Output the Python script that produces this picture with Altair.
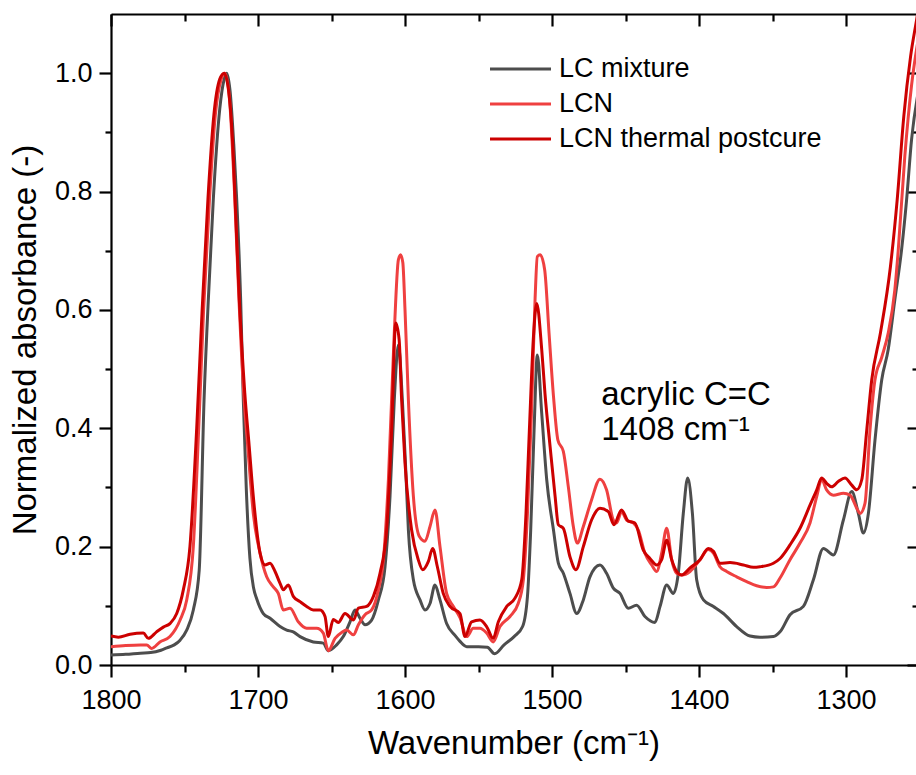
import altair as alt
import pandas as pd

# ---------------- data ----------------
series_names = ["LC mixture", "LCN", "LCN thermal postcure"]
series_colors = ["#4d4d4d", "#ef4040", "#cc0000"]

wn_lc = [1800, 1790, 1780, 1773, 1766, 1762, 1757, 1753, 1748.5, 1744,
         1740, 1736.7, 1733.8, 1730.4, 1726, 1723, 1721.3, 1719, 1716.5, 1714.5,
         1711.8, 1710, 1708, 1705.5, 1703, 1700.9, 1696.4, 1691.8, 1685, 1680.5,
         1676, 1671.4, 1662.4, 1655.6, 1652.2, 1646.5, 1642, 1637.4, 1634, 1630.6,
         1627.2, 1622.7, 1618.1, 1613.6, 1610.2, 1607.3, 1604.5, 1601.8, 1599.5, 1597.7,
         1594.3, 1589.8, 1586.4, 1583, 1579.6, 1576.2, 1571.7, 1566, 1562.6, 1558,
         1550, 1544, 1539, 1532.6, 1525.8, 1520, 1516.7, 1514.5, 1512.2, 1510,
         1507, 1503.6, 1499, 1495.7, 1492.3, 1487.8, 1483.2, 1478.7, 1474.2, 1467.4,
         1462.9, 1458.3, 1453.8, 1448.1, 1442.5, 1436.8, 1430, 1426.5, 1422, 1417.5,
         1414.1, 1410.7, 1407.7, 1404.5, 1401.6, 1397, 1390.2, 1383.4, 1374.4, 1365.3,
         1358.5, 1349.4, 1344.9, 1338.1, 1329, 1322.2, 1315.4, 1308.6, 1301.8, 1296.1,
         1291.6, 1288.2, 1284.8, 1280.3, 1275.7, 1271.3, 1266.8, 1262.2, 1258.8, 1255.4,
         1250]
abs_lc = [0.017, 0.018, 0.020, 0.021, 0.025, 0.029, 0.034, 0.042, 0.059, 0.093,
          0.16, 0.448, 0.617, 0.787, 0.94, 0.99, 1.0, 0.97, 0.88, 0.787,
          0.617, 0.448, 0.30, 0.18, 0.13, 0.112, 0.087, 0.079, 0.065, 0.059,
          0.056, 0.048, 0.039, 0.037, 0.024, 0.034, 0.048, 0.073, 0.093, 0.079,
          0.068, 0.076, 0.110, 0.166, 0.285, 0.448, 0.541, 0.448, 0.33, 0.228,
          0.144, 0.110, 0.093, 0.104, 0.135, 0.110, 0.070, 0.050, 0.040, 0.031,
          0.031, 0.030, 0.019, 0.034, 0.048, 0.065, 0.116, 0.228, 0.397, 0.524,
          0.425, 0.313, 0.228, 0.172, 0.155, 0.121, 0.087, 0.110, 0.149, 0.169,
          0.155, 0.130, 0.121, 0.096, 0.101, 0.082, 0.072, 0.099, 0.135, 0.121,
          0.155, 0.256, 0.316, 0.256, 0.144, 0.110, 0.099, 0.087, 0.065, 0.049,
          0.047, 0.048, 0.056, 0.085, 0.099, 0.144, 0.197, 0.186, 0.245, 0.293,
          0.256, 0.223, 0.256, 0.380, 0.482, 0.533, 0.617, 0.702, 0.786, 0.888,
          0.98]

wn_lcn = [1800, 1790, 1780, 1775.7, 1772.3, 1766.7, 1759.9, 1753, 1748.5, 1744,
          1740, 1737, 1733, 1729, 1725, 1722.5, 1719.5, 1716, 1713, 1709.5,
          1707, 1703.2, 1698.6, 1694.1, 1689.6, 1686.2, 1682.8, 1678.2, 1672.6, 1666.9,
          1660.1, 1655.6, 1652.2, 1647.6, 1643.1, 1639.7, 1635.1, 1631.7, 1627.2, 1622.7,
          1618.1, 1614.7, 1611.3, 1607.5, 1604.5, 1603, 1601.5, 1600, 1597.7, 1594.3,
          1590.2, 1586.4, 1583, 1579.6, 1576.2, 1571.7, 1567.1, 1562.6, 1558, 1553.6,
          1549, 1544.5, 1540, 1535.4, 1528.6, 1523, 1519.5, 1516.7, 1514, 1511.5,
          1510, 1508, 1505, 1502, 1499, 1496, 1492.3, 1488.9, 1485.5, 1482.8,
          1478.7, 1473.1, 1467.4, 1462.9, 1458.3, 1456.1, 1452.7, 1449.3, 1444.7, 1441.3,
          1436.8, 1432.2, 1428.8, 1425.4, 1422, 1418.6, 1415.2, 1411.8, 1406.1, 1399.3,
          1393.7, 1390.2, 1385.7, 1381.2, 1374.4, 1367.6, 1360.8, 1354, 1349.4, 1344.9,
          1338.1, 1331.3, 1324.5, 1319.9, 1316.6, 1313.2, 1308.6, 1301.8, 1297.3, 1292.7,
          1290.5, 1287.1, 1283.7, 1280.3, 1275.7, 1271.3, 1266.8, 1264.5, 1260, 1255.4,
          1250]
abs_lcn = [0.031, 0.033, 0.034, 0.034, 0.028, 0.039, 0.048, 0.076, 0.110, 0.2,
           0.42, 0.60, 0.787, 0.93, 0.99, 1.0, 0.96, 0.80, 0.62, 0.45,
           0.37, 0.256, 0.189, 0.149, 0.132, 0.121, 0.093, 0.096, 0.073, 0.062,
           0.062, 0.054, 0.024, 0.045, 0.055, 0.059, 0.051, 0.068, 0.085, 0.093,
           0.127, 0.178, 0.313, 0.55, 0.685, 0.693, 0.68, 0.60, 0.448, 0.285,
           0.217, 0.209, 0.234, 0.262, 0.2, 0.121, 0.099, 0.080, 0.048, 0.062,
           0.062, 0.054, 0.039, 0.065, 0.082, 0.104, 0.144, 0.256, 0.425, 0.62,
           0.69, 0.693, 0.668, 0.56, 0.454, 0.380, 0.361, 0.301, 0.234, 0.206,
           0.234, 0.279, 0.314, 0.296, 0.245, 0.240, 0.259, 0.245, 0.240, 0.228,
           0.189, 0.169, 0.158, 0.189, 0.231, 0.178, 0.155, 0.152, 0.158, 0.178,
           0.195, 0.189, 0.166, 0.158, 0.149, 0.141, 0.134, 0.131, 0.132, 0.147,
           0.178, 0.206, 0.240, 0.285, 0.313, 0.296, 0.287, 0.290, 0.287, 0.265,
           0.256, 0.273, 0.397, 0.482, 0.52, 0.561, 0.634, 0.70, 0.86, 0.98,
           1.07]

wn_post = [1800, 1795, 1787, 1778, 1774.6, 1769, 1764.4, 1759.9, 1755.3, 1750.8,
           1746.3, 1741.7, 1738, 1734, 1730, 1726, 1723, 1720, 1717, 1715.6,
           1712.7, 1709, 1706, 1703.2, 1698.6, 1695.2, 1691.8, 1688.4, 1685, 1682.8,
           1679.4, 1676, 1671.4, 1666.9, 1662.4, 1657.8, 1654.4, 1652.2, 1648.8, 1645.4,
           1640.8, 1635.1, 1631.7, 1626.1, 1621.5, 1617, 1612.5, 1609.1, 1606.3, 1604,
           1602.3, 1600, 1595.5, 1591, 1588, 1584.1, 1581.2, 1578, 1574, 1569.4,
           1562.6, 1559.2, 1554.7, 1549, 1544.5, 1540, 1536.5, 1530.8, 1525.2, 1520.6,
           1517.7, 1515.4, 1512.5, 1510.4, 1507, 1504.8, 1501.3, 1497.9, 1495.7, 1492.3,
           1487.8, 1483.7, 1478.7, 1473.1, 1467.4, 1461.7, 1457.9, 1452.7, 1448.1, 1443.6,
           1437.9, 1433.4, 1428.8, 1425.4, 1422, 1418.6, 1415.2, 1411.8, 1406.1, 1399.3,
           1393.7, 1390.2, 1385.7, 1378.9, 1369.8, 1363, 1358.5, 1349.4, 1344.9, 1338.1,
           1331.3, 1324.5, 1319.9, 1316.6, 1313.2, 1309.8, 1305.3, 1300.7, 1296.1, 1292.7,
           1289.3, 1285.9, 1282.5, 1276.6, 1269.8, 1265.2, 1260.7, 1256.1, 1252, 1250]
abs_post = [0.049, 0.047, 0.052, 0.054, 0.045, 0.056, 0.064, 0.070, 0.087, 0.127,
            0.2, 0.40, 0.60, 0.79, 0.93, 0.99, 1.0, 0.97, 0.87, 0.787,
            0.617, 0.46, 0.37, 0.285, 0.189, 0.169, 0.172, 0.158, 0.138, 0.127,
            0.135, 0.116, 0.107, 0.099, 0.093, 0.093, 0.082, 0.048, 0.077, 0.072,
            0.087, 0.076, 0.096, 0.099, 0.116, 0.155, 0.228, 0.397, 0.578, 0.55,
            0.448, 0.341, 0.228, 0.178, 0.161, 0.175, 0.197, 0.166, 0.121, 0.099,
            0.087, 0.048, 0.073, 0.076, 0.065, 0.045, 0.073, 0.099, 0.113, 0.144,
            0.256, 0.397, 0.56, 0.611, 0.533, 0.459, 0.369, 0.285, 0.237, 0.231,
            0.183, 0.161, 0.2, 0.245, 0.265, 0.259, 0.237, 0.262, 0.243, 0.240,
            0.194, 0.180, 0.169, 0.178, 0.211, 0.178, 0.158, 0.152, 0.164, 0.178,
            0.197, 0.192, 0.172, 0.173, 0.169, 0.165, 0.166, 0.172, 0.180, 0.203,
            0.231, 0.270, 0.296, 0.316, 0.307, 0.301, 0.310, 0.316, 0.304, 0.296,
            0.313, 0.397, 0.482, 0.561, 0.673, 0.786, 0.927, 1.028, 1.09, 1.12]

x_major = [1800, 1700, 1600, 1500, 1400, 1300]
x_minor = [1750, 1650, 1550, 1450, 1350]
y_major = [0.0, 0.2, 0.4, 0.6, 0.8, 1.0]
y_minor = [0.1, 0.3, 0.5, 0.7, 0.9]

ann_text = ["acrylic C=C", "1408 cm\u207b\u00b9"]
ann_x = [1466.5, 1466.5]
ann_y = [0.44, 0.381]

# ---------------- tables ----------------
frames = []
for name, wn, ab in zip(series_names, [wn_lc, wn_lcn, wn_post], [abs_lc, abs_lcn, abs_post]):
    frames.append(pd.DataFrame({"wn": wn, "absorb": ab, "sample": name}))
df = pd.concat(frames, ignore_index=True)
ann_df = pd.DataFrame({"x": ann_x, "y": ann_y, "t": ann_text})

W, H = 805, 651
FONT = "Liberation Sans"

xscale = alt.Scale(domain=[1800, 1252.4], nice=False, zero=False)
yscale = alt.Scale(domain=[0, 1.1], nice=False, zero=False)

tick_style = dict(tickColor="black", tickWidth=2.2, grid=False)
dom_style = dict(domainColor="black", domainWidth=2.2)
lab_style = dict(labelFont=FONT, labelFontSize=27, labelColor="black",
                 labelFlush=False, labelOverlap=False)
tit_style = dict(titleFont=FONT, titleFontSize=33, titleColor="black",
                 titleFontWeight="normal", titleAlign="center", titleBaseline="alphabetic")

lines = alt.Chart(df).mark_line(strokeWidth=3, interpolate="monotone", clip=True).encode(
    x=alt.X("wn:Q", scale=xscale,
            axis=alt.Axis(orient="bottom", values=x_major, tickSize=12, labelPadding=10,
                          format="d", title="Wavenumber (cm\u207b\u00b9)",
                          titleX=W / 2, titleY=88,
                          **tick_style, **dom_style, **lab_style, **tit_style)),
    y=alt.Y("absorb:Q", scale=yscale,
            axis=alt.Axis(orient="left", values=y_major, tickSize=12, labelPadding=7,
                          format=".1f", title="Normalized absorbance (-)",
                          titleX=-76, titleY=H / 2, titleAngle=270,
                          **tick_style, **dom_style, **lab_style, **tit_style)),
    color=alt.Color("sample:N",
                    scale=alt.Scale(domain=series_names, range=series_colors),
                    legend=alt.Legend(orient="none", legendX=379, legendY=41.5, title=None,
                                      symbolType="M-6.1,0H6.1", symbolSize=100,
                                      symbolStrokeWidth=3, symbolOffset=17,
                                      labelOffset=25, labelFont=FONT, labelFontSize=27,
                                      labelColor="black", labelLimit=600,
                                      rowPadding=7, padding=0)),
    order=alt.Order("wn:Q", sort="descending"),
)


def guide_layer(xaxis, yaxis):
    return alt.Chart(df).mark_line(strokeOpacity=0, strokeWidth=0).encode(
        x=alt.X("wn:Q", scale=xscale, axis=xaxis),
        y=alt.Y("absorb:Q", scale=yscale, axis=yaxis),
    )


minor_layer = guide_layer(
    alt.Axis(orient="bottom", values=x_minor, tickSize=7, labels=False, domain=False,
             title=None, **tick_style),
    alt.Axis(orient="left", values=y_minor, tickSize=6, labels=False, domain=False,
             title=None, **tick_style),
)
mirror_major = guide_layer(
    alt.Axis(orient="bottom", offset=-H, values=x_major, tickSize=12, labels=False,
             domain=True, title=None, **tick_style, **dom_style),
    alt.Axis(orient="left", offset=-(W + 3), values=y_major, tickSize=12, labels=False,
             domain=False, title=None, **tick_style),
)
mirror_minor = guide_layer(
    alt.Axis(orient="bottom", offset=-H, values=x_minor, tickSize=7, labels=False,
             domain=False, title=None, **tick_style),
    alt.Axis(orient="left", offset=-(W + 3), values=y_minor, tickSize=7, labels=False,
             domain=False, title=None, **tick_style),
)

ann = alt.Chart(ann_df).mark_text(align="left", baseline="alphabetic", font=FONT,
                                  fontSize=33, color="black").encode(
    x=alt.X("x:Q", scale=xscale, axis=None),
    y=alt.Y("y:Q", scale=yscale, axis=None),
    text="t:N",
)

chart = alt.layer(minor_layer, mirror_major, mirror_minor, lines, ann).resolve_axis(
    x="independent", y="independent"
).properties(
    width=W, height=H,
    autosize=alt.AutoSizeParams(type="none"),
    padding={"left": 111, "top": 14, "right": 0, "bottom": 110},
    background="white",
).configure_view(strokeWidth=0)

chart.save("out.html", embed_options={"renderer": "svg", "actions": False})
